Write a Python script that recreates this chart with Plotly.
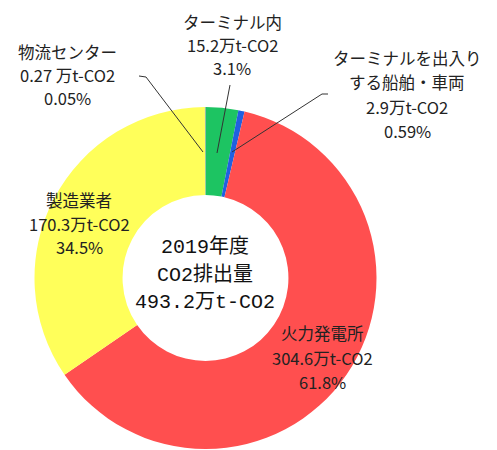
import plotly.graph_objects as go

labels = ["ターミナル内", "ターミナルを出入りする船舶・車両", "火力発電所", "製造業者", "物流センター"]
values = [15.2, 2.9, 304.6, 170.3, 0.27]
colors = ["#1DC462", "#2160E0", "#FF4F4F", "#FFFF5A", "#9A9A9A"]

label_lines = [
    ["ターミナル内", "15.2万t-CO2", "3.1%"],
    ["ターミナルを出入り", "する船舶・車両", "2.9万t-CO2", "0.59%"],
    ["火力発電所", "304.6万t-CO2", "61.8%"],
    ["製造業者", "170.3万t-CO2", "34.5%"],
    ["物流センター", "0.27 万t-CO2", "0.05%"],
]
center_lines = ["2019年度", "CO2排出量", "493.2万t-CO2"]

# page has an 8px body margin; figure sized so page is 497x450
OFF = 8
W, H = 489, 442
FONT = "Noto Sans CJK JP"
MONO = "Liberation Mono, Noto Sans CJK JP"


def px(x, y):
    """reference screen pixel -> paper coords"""
    return (x - OFF) / W, 1 - (y - OFF) / H


x0, _ = px(34, 0)
x1, _ = px(377, 0)
_, yt = px(0, 107)
_, yb = px(0, 449)

fig = go.Figure(go.Pie(
    labels=labels, values=values, sort=False, direction="clockwise", rotation=0,
    hole=0.485, textinfo="none", hoverinfo="label+value",
    marker=dict(colors=colors, line=dict(width=0)),
    domain=dict(x=[x0, x1], y=[max(yb, 0), yt]),
    showlegend=False,
))

# first-line center position and line spacing of each label (reference pixels)
label_pos = [(232, 22, 23), (407, 58, 24.3), (322, 333, 24.5), (79, 200, 23.5), (67, 52, 23)]
for lines, (x, y, dy) in zip(label_lines, label_pos):
    for i, line in enumerate(lines):
        ax, ay = px(x, y + i * dy)
        fig.add_annotation(x=ax, y=ay, xref="paper", yref="paper", text=line,
                           showarrow=False, align="center",
                           xanchor="center", yanchor="middle",
                           font=dict(family=FONT, size=16.5, color="#222222"))

for i, line in enumerate(center_lines):
    cx, cy = px(205, 247 + i * 27.5)
    fig.add_annotation(x=cx, y=cy, xref="paper", yref="paper", text=line,
                       showarrow=False, align="center",
                       xanchor="center", yanchor="middle",
                       font=dict(family=MONO, size=20, color="#111111"))

# leader lines
leaders = [
    [(139, 76), (146, 77), (203, 152)],
    [(230, 85), (217, 153)],
    [(328, 94), (322, 94), (232, 152)],
]
for pts in leaders:
    path = "M " + " L ".join(f"{px(x, y)[0]},{px(x, y)[1]}" for x, y in pts)
    fig.add_shape(type="path", path=path, xref="paper", yref="paper",
                  line=dict(color="#333333", width=1))

fig.update_layout(width=W, height=H, margin=dict(l=0, r=0, t=0, b=0),
                  paper_bgcolor="white", plot_bgcolor="white")
fig.write_html("out.html")
